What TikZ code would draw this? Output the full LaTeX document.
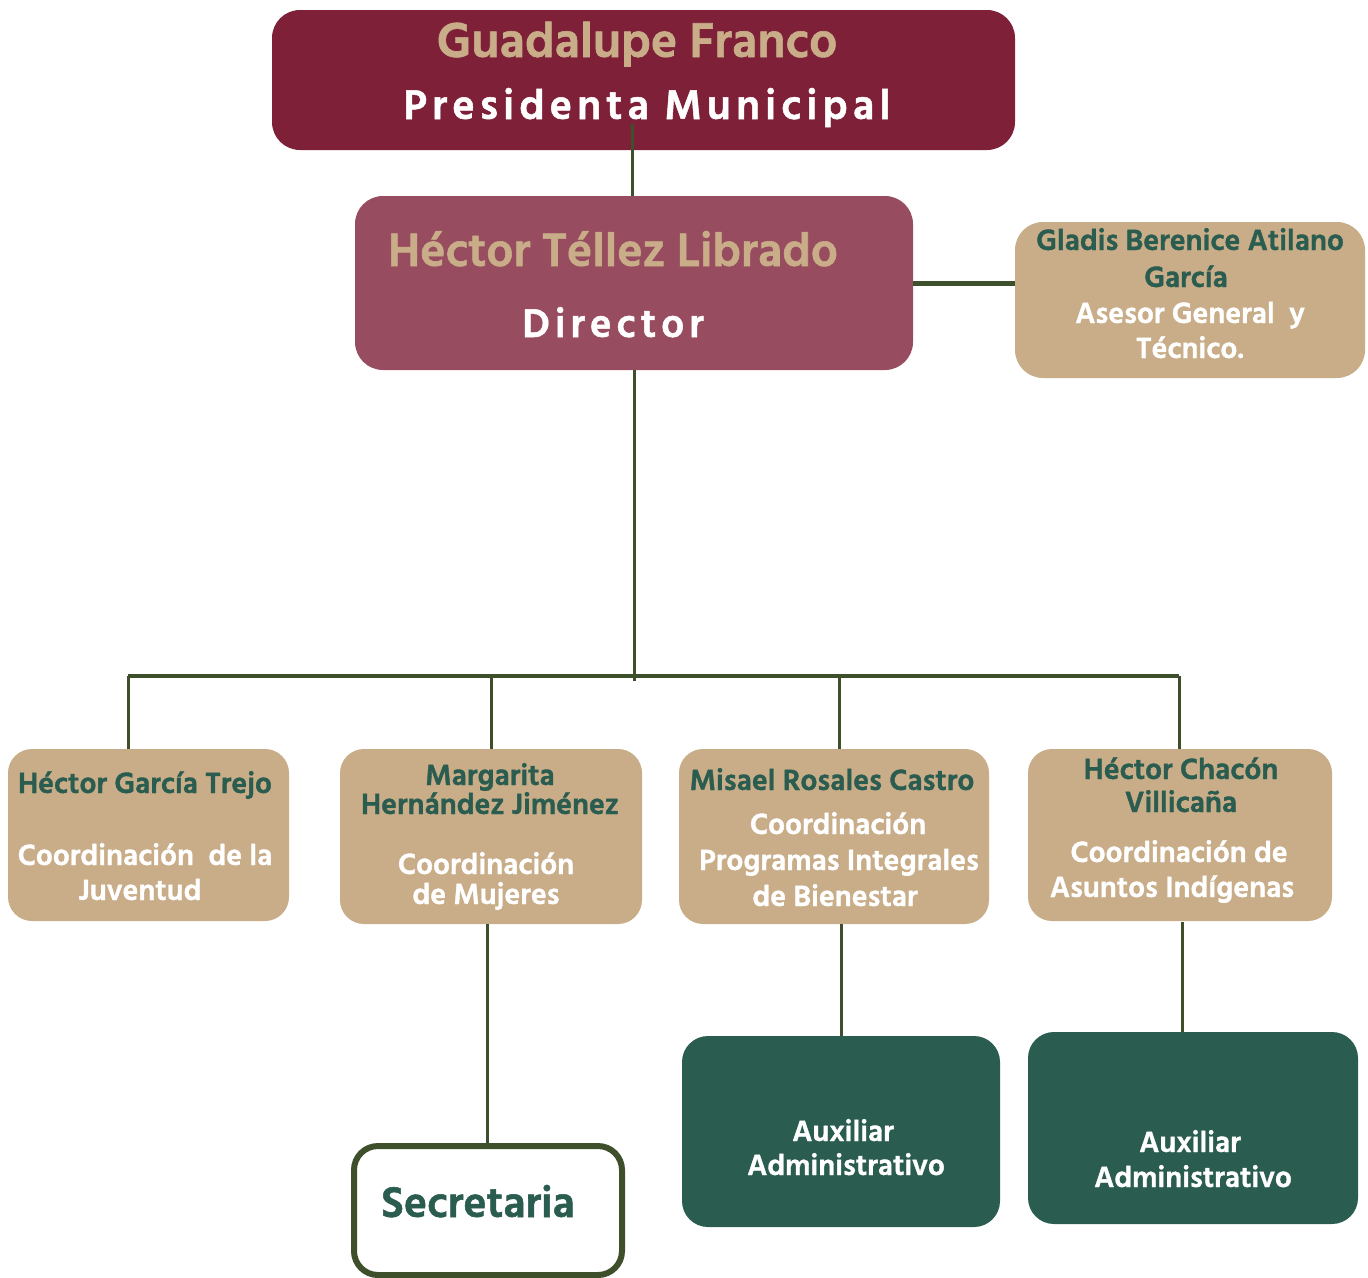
\documentclass[tikz,border=0pt]{standalone}
\usepackage{fontspec}
\setmainfont{Hind Siliguri}[BoldFeatures={FakeBold=1.2}]
\newfontfamily\spacedfont{Hind Siliguri}[LetterSpace=12,BoldFeatures={FakeBold=1.2}]
\definecolor{burg}{HTML}{7F2039}
\definecolor{rose}{HTML}{984C5F}
\definecolor{tan}{HTML}{C8AD88}
\definecolor{dgreen}{HTML}{2A5C4F}
\definecolor{lineC}{HTML}{3E4F2B}
\begin{document}
\begin{tikzpicture}[x=1pt,y=-1pt,
  box/.style={draw=none, rounded corners=28pt, inner sep=0pt},
  conn/.style={draw=lineC, line width=3pt},
  tx/.style={inner sep=0pt, anchor=base},
  nm/.style={tx, text=dgreen, font=\bfseries\fontsize{30}{32}\selectfont},
  rl/.style={tx, text=white, font=\bfseries\fontsize{30}{32}\selectfont}]
\useasboundingbox (0,0) rectangle (1368,1277);
% boxes
\node[box, fill=burg, minimum width=743pt, minimum height=140pt] (pres) at (643.5,80) {};
\node[box, fill=rose, minimum width=558pt, minimum height=174pt] (dir) at (634,283) {};
\node[box, fill=tan, minimum width=350pt, minimum height=156pt] (glad) at (1190,300) {};
\node[box, fill=tan, rounded corners=24pt, minimum width=281pt, minimum height=172pt] (b1) at (148.5,835) {};
\node[box, fill=tan, rounded corners=24pt, minimum width=302pt, minimum height=175pt] (b2) at (491,836.5) {};
\node[box, fill=tan, rounded corners=24pt, minimum width=310pt, minimum height=175pt] (b3) at (834,836.5) {};
\node[box, fill=tan, rounded corners=24pt, minimum width=304pt, minimum height=172pt] (b4) at (1180,835) {};
\node[box, fill=dgreen, rounded corners=26pt, minimum width=318pt, minimum height=191pt] (aux1) at (841,1131.5) {};
\node[box, fill=dgreen, rounded corners=26pt, minimum width=330pt, minimum height=192pt] (aux2) at (1193,1128) {};
\node[box, draw=lineC, fill=white, line width=6pt, rounded corners=24pt, minimum width=268pt, minimum height=129pt] (sec) at (488,1210.5) {};
% connectors
\coordinate (pj) at (632,124);
\draw[conn] (pj) -- (pj |- dir.north);
\draw[conn, line width=5pt] (dir.east) -- (dir.east -| glad.west);
\coordinate (busc) at (634,681);
\draw[conn] (dir.south) -- (busc);
\coordinate (d1) at (128,676);
\coordinate (d2) at (491,676);
\coordinate (d3) at (839,676);
\coordinate (d4) at (1179,676);
\draw[conn, line width=4pt] (d1) -- (d4);
\draw[conn] (d1) -- (d1 |- b1.north);
\draw[conn] (d2) -- (d2 |- b2.north);
\draw[conn] (d3) -- (d3 |- b3.north);
\draw[conn] (d4) -- (d4 |- b4.north);
\coordinate (s2) at (487,924);
\draw[conn] (s2) -- (s2 |- sec.north);
\coordinate (s3) at (841.5,924);
\draw[conn] (s3) -- (s3 |- aux1.north);
\coordinate (s4) at (1182,922);
\draw[conn] (s4) -- (s4 |- aux2.north);
% texts
\node[tx, text=tan, font=\bfseries\fontsize{50}{52}\selectfont] (t0a) at (637,57) {Guadalupe Franco};
\node[tx, text=white, font=\spacedfont\bfseries\fontsize{42.5}{44}\selectfont] (t0b) at (647,119) {Presidenta Municipal};
\node[tx, text=tan, font=\bfseries\fontsize{48}{50}\selectfont] (t1a) at (613,266) {Héctor Téllez Librado};
\node[tx, text=white, font=\spacedfont\bfseries\fontsize{41}{44}\selectfont] (t1b) at (613,337) {Director};
\node[nm] (tga) at (1190,250) {Gladis Berenice Atilano};
\node[nm] (tgb) at (1186,287) {García};
\node[rl] (tgc) at (1190,323) {Asesor General\ \ y};
\node[rl] (tgd) at (1190,358) {Técnico.};
\node[nm] (t2a) at (145,793) {Héctor García Trejo};
\node[rl] (t2b) at (145,865) {Coordinación\ \ de la};
\node[rl] (t2c) at (140,900) {Juventud};
\node[nm] (t3a) at (490,785) {Margarita};
\node[nm] (t3b) at (490,814) {Hernández Jiménez};
\node[rl] (t3c) at (486,874) {Coordinación};
\node[rl] (t3d) at (486,904) {de Mujeres};
\node[nm] (t4a) at (832,790) {Misael Rosales Castro};
\node[rl] (t4b) at (838,834) {Coordinación};
\node[rl] (t4c) at (839,870) {Programas Integrales};
\node[rl] (t4d) at (835,906) {de Bienestar};
\node[nm] (t5a) at (1181,779) {Héctor Chacón};
\node[nm] (t5b) at (1181,812) {Villicaña};
\node[rl] (t5c) at (1179,862) {Coordinación de};
\node[rl] (t5d) at (1172,897) {Asuntos Indígenas};
\node[rl] (t6a) at (843,1141) {Auxiliar};
\node[rl] (t6b) at (846,1175) {Administrativo};
\node[rl] (t7a) at (1190,1152) {Auxiliar};
\node[rl] (t7b) at (1193,1187) {Administrativo};
\node[tx, text=dgreen, font=\bfseries\fontsize{44}{46}\selectfont] (t8) at (478,1217) {Secretaria};
\end{tikzpicture}
\end{document}
